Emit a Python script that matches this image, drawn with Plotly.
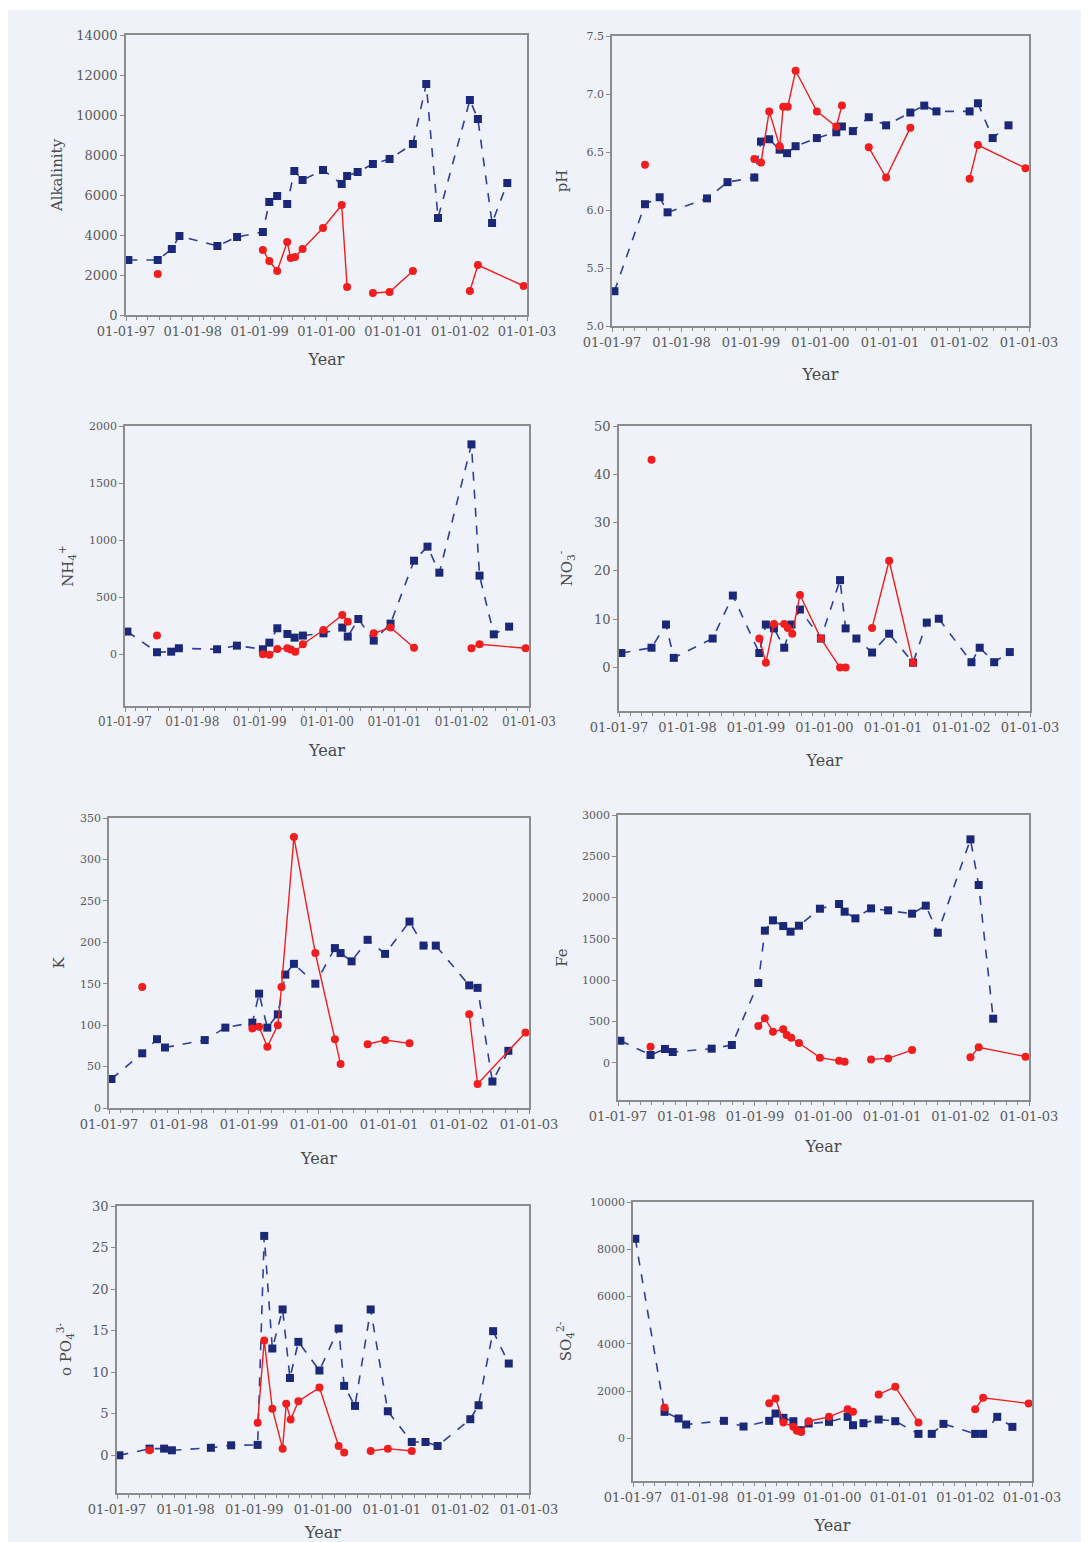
import datetime as dt
import plotly.graph_objects as go

# ---------------- data ----------------
# sampling dates (decimal years)
BLUE_T = [1997.035, 1997.475, 1997.686, 1997.80, 1998.368, 1998.663, 1999.049, 1999.145,
          1999.263, 1999.413, 1999.52, 1999.643, 1999.949, 2000.228, 2000.309, 2000.466,
          2000.694, 2000.943, 2001.292, 2001.492, 2001.668, 2002.145, 2002.265, 2002.477,
          2002.705]
RED_T = [1997.475, 1999.049, 1999.145, 1999.263, 1999.413, 1999.465, 1999.53, 1999.643,
         1999.949, 2000.228, 2000.309, 2000.694, 2000.943, 2001.292, 2002.145, 2002.265,
         2002.95]
RED_SEGMENT_STARTS = [1, 11, 14]   # red series is interrupted before these samples

alk_blue = [2750, 2750, 3300, 3950, 3450, 3900, 4150, 5650, 5950, 5550, 7200, 6750, 7250,
            6550, 6950, 7150, 7550, 7800, 8550, 11550, 4850, 10750, 9800, 4600, 6600]
alk_red = [2050, 3250, 2700, 2200, 3650, 2850, 2900, 3300, 4350, 5500, 1400, 1100, 1150,
           2200, 1200, 2500, 1450]

ph_blue = [5.30, 6.05, 6.11, 5.98, 6.10, 6.24, 6.28, 6.59, 6.61, 6.52, 6.49, 6.55, 6.62,
           6.67, 6.72, 6.68, 6.80, 6.73, 6.84, 6.90, 6.85, 6.85, 6.92, 6.62, 6.73]
ph_red = [6.39, 6.44, 6.41, 6.85, 6.55, 6.89, 6.89, 7.20, 6.85, 6.72, 6.90, 6.54, 6.28,
          6.71, 6.27, 6.56, 6.36]

nh4_blue = [199, 18, 23, 53, 44, 76, 44, 102, 228, 178, 146, 164, 184, 234, 155, 309, 120,
            269, 820, 943, 715, 1839, 689, 175, 242]
nh4_red = [164, 0, -5, 47, 53, 41, 23, 88, 213, 345, 286, 184, 234, 58, 53, 88, 53]

no3_blue = [3.0, 4.1, 8.9, 2.0, 6.0, 14.9, 3.0, 8.9, 8.1, 4.1, 8.9, 12.0, 6.0, 18.1, 8.1,
            6.0, 3.1, 7.0, 1.0, 9.3, 10.1, 1.1, 4.1, 1.1, 3.2]
no3_red = [43, 6.0, 1.0, 9.0, 9.0, 8.2, 7.0, 15.0, 6.0, 0, 0, 8.2, 22.1, 1.0, None, None, None]

k_blue = [35, 66, 83, 73, 82, 97, 103, 138, 97, 113, 161, 174, 150, 193, 187, 177, 203, 186,
          225, 196, 196, 148, 145, 32, 69]
k_red = [146, 96, 98, 74, 100, 146, None, 327, 187, 83, 53, 77, 82, 78, 113, 29, 91]

fe_blue = [266, 93, 166, 129, 170, 214, 965, 1599, 1724, 1655, 1587, 1659, 1865, 1922, 1829,
           1748, 1869, 1845, 1805, 1902, 1574, 2705, 2152, 533, None]
fe_red = [194, 444, 537, 375, 404, 335, 303, 238, 61, 24, 12, 40, 52, 153, 65, 186, 73]

po4_blue = [0.0, 0.8, 0.8, 0.6, 0.9, 1.2, 1.25, 26.4, 12.85, 17.55, 9.3, 13.65, 10.2, 15.26,
            8.35, 5.94, 17.55, 5.3, 1.6, 1.6, 1.12, 4.34, 6.02, 14.94, 11.04]
po4_red = [0.6, 3.9, 13.8, 5.6, 0.8, 6.2, 4.3, 6.5, 8.15, 1.12, 0.32, 0.52, 0.8, 0.52,
           None, None, None]

so4_blue = [8446, 1130, 847, 593, 749, 508, 749, 1059, 876, 734, 353, 636, 706, 918, 565, 650,
            805, 734, 198, 198, 621, 198, 198, 918, 494]
so4_red = [1314, 1497, 1695, 678, 494, 325, 282, 734, 918, 1243, 1130, 1864, 2189, 678, 1243,
           1723, 1483]

Y_TITLES = ["Alkalinity", "pH", "NH<sub>4</sub><sup>+</sup>", "NO<sub>3</sub><sup>-</sup>",
            "K", "Fe", "o PO<sub>4</sub><sup>3-</sup>", "SO<sub>4</sub><sup>2-</sup>"]
Y_RANGES = [[0, 14000], [5.0, 7.5], [-453, 2000], [-9, 50], [0, 350], [-452, 3000],
            [-4.54, 30], [-1794, 10000]]
Y_DTICKS = [2000, 0.5, 500, 10, 50, 500, 5, 2000]
Y_TICKFMT = ["d", ".1f", "d", "d", "d", "d", "d", "d"]
BLUE_SETS = [alk_blue, ph_blue, nh4_blue, no3_blue, k_blue, fe_blue, po4_blue, so4_blue]
RED_SETS = [alk_red, ph_red, nh4_red, no3_red, k_red, fe_red, po4_red, so4_red]

# ---------------- layout geometry (pixels) ----------------
W, H = 1089, 1542
BOXES = [  # x0, x1, ytop, ybottom
    (126, 527, 35, 315), (612, 1029, 36, 326),
    (125, 529, 426, 706), (619, 1030, 426, 711),
    (109, 529, 818, 1108), (618, 1029, 815, 1100),
    (117, 529, 1206, 1493), (633, 1032, 1202, 1481),
]
YTITLE_STANDOFF = [10, 15, 12, 18, 12, 11, 17, 15]
XTITLE_STANDOFF = [15, 19, 17, 20, 21, 17, 17, 15]
YTICK_SIZE = [13, 11, 11, 13, 11, 11, 13, 11]
XTICK_SIZE = [13, 13, 12, 13, 13, 13, 13, 13]


def to_date(t):
    y = int(t)
    start = dt.datetime(y, 1, 1)
    end = dt.datetime(y + 1, 1, 1)
    return start + (end - start) * (t - y)


def red_xy(vals):
    xs, ys = [], []
    for i, (t, v) in enumerate(zip(RED_T, vals)):
        if i in RED_SEGMENT_STARTS:
            xs.append(None)
            ys.append(None)
        if v is None:
            continue
        xs.append(to_date(t))
        ys.append(v)
    return xs, ys


BLUE_LINE = "#2f3f9e"
BLUE_MK = "#1b2877"
RED = "#f21d1d"
AX = "#8c8c8c"
TXT = "#4a4a4a"
FONT = "DejaVu Serif"

fig = go.Figure()
layout = {}
for i in range(8):
    n = i + 1
    sfx = "" if n == 1 else str(n)
    bx = [v for t, v in zip(BLUE_T, BLUE_SETS[i]) if v is not None]
    bt = [to_date(t) for t, v in zip(BLUE_T, BLUE_SETS[i]) if v is not None]
    fig.add_trace(go.Scatter(
        x=bt, y=bx, mode="lines+markers", xaxis="x" + sfx, yaxis="y" + sfx,
        line=dict(color=BLUE_LINE, width=1.6, dash="dash"),
        marker=dict(symbol="square", size=8, color=BLUE_MK),
        showlegend=False, hoverinfo="x+y"))
    rx, ry = red_xy(RED_SETS[i])
    fig.add_trace(go.Scatter(
        x=rx, y=ry, mode="lines+markers", xaxis="x" + sfx, yaxis="y" + sfx,
        line=dict(color=RED, width=1.4), connectgaps=False,
        marker=dict(symbol="circle", size=8, color=RED),
        showlegend=False, hoverinfo="x+y"))

    x0, x1, yt, yb = BOXES[i]
    layout["xaxis" + sfx] = dict(
        domain=[x0 / W, x1 / W], anchor="y" + sfx, automargin=False,
        range=[dt.datetime(1997, 1, 1), dt.datetime(2003, 1, 1)],
        type="date", tick0="1997-01-01", dtick="M12", tickformat="%d-%m-%y",
        ticks="outside", ticklen=4, tickcolor=AX,
        minor=dict(dtick="M2", ticks="outside", ticklen=3, tickcolor=AX),
        showline=True, mirror=True, linecolor=AX, linewidth=1.6,
        showgrid=False, zeroline=False,
        tickfont=dict(family=FONT, size=XTICK_SIZE[i], color="#5a5a5a"),
        title=dict(text="Year", font=dict(family=FONT, size=16, color=TXT),
                   standoff=XTITLE_STANDOFF[i]),
    )
    layout["yaxis" + sfx] = dict(
        domain=[1 - yb / H, 1 - yt / H], anchor="x" + sfx, automargin=False,
        range=Y_RANGES[i], dtick=Y_DTICKS[i], tick0=0, tickformat=Y_TICKFMT[i],
        ticks="outside", ticklen=4, tickcolor=AX,
        showline=True, mirror=True, linecolor=AX, linewidth=1.6,
        showgrid=False, zeroline=False,
        tickfont=dict(family=FONT, size=YTICK_SIZE[i], color="#5a5a5a"),
        title=dict(text=Y_TITLES[i], font=dict(family=FONT, size=15, color=TXT),
                   standoff=YTITLE_STANDOFF[i]),
    )

fig.update_layout(
    width=W, height=H, margin=dict(l=0, r=0, t=0, b=0),
    paper_bgcolor="white", plot_bgcolor="#f0f2f9",
    shapes=[dict(type="rect", xref="paper", yref="paper", x0=8 / W, x1=1081 / W,
                 y0=0, y1=1 - 10 / H, fillcolor="#eff2f9", line=dict(width=0),
                 layer="below")],
    **layout,
)

fig.write_html("out.html")
